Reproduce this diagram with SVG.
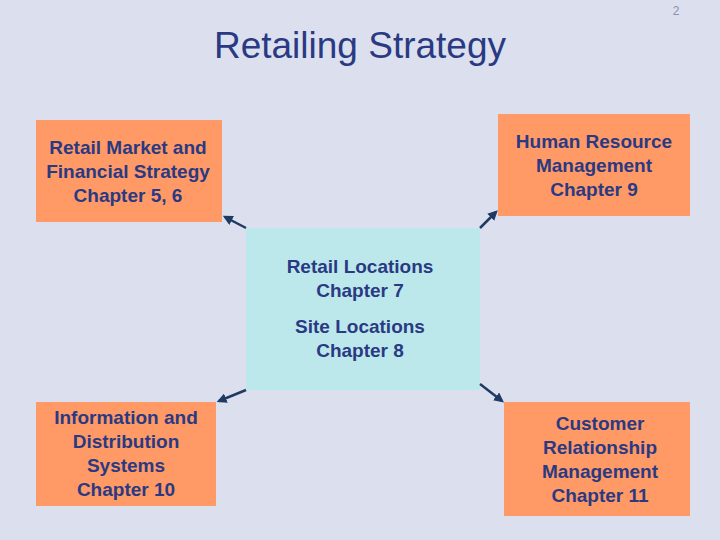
<svg xmlns="http://www.w3.org/2000/svg" width="720" height="540" viewBox="0 0 720 540">
<style>
.o{fill:#ff9966}
.t{font-family:"Liberation Sans",Arial,sans-serif;font-weight:bold;font-size:19px;fill:#2a3a82;text-anchor:middle}
.c line{stroke:#213a63;stroke-width:2.5;marker-end:url(#a)}
</style>
<defs><marker id="a" markerWidth="4" markerHeight="4" refX="3" refY="2" orient="auto"><path d="M0,0L4,2L0,4z" fill="#213a63"/></marker></defs>
<rect width="720" height="540" fill="#dce0ee"/>
<text x="676" y="15" font-family="Liberation Sans,sans-serif" font-size="12" fill="#8890b0" text-anchor="middle">2</text>
<text x="360" y="58" font-family="Liberation Sans,sans-serif" font-size="37" fill="#2a3a82" text-anchor="middle">Retailing Strategy</text>
<g id="center"><rect x="246" y="228" width="234" height="162" fill="#bce8ec"/>
<text class="t" x="360" y="273">Retail Locations</text><text class="t" x="360" y="297">Chapter 7</text>
<text class="t" x="360" y="333">Site Locations</text><text class="t" x="360" y="357">Chapter 8</text></g>
<g id="tl"><rect class="o" x="36" y="120" width="186" height="102"/>
<text class="t" x="128" y="154">Retail Market and</text><text class="t" x="128" y="178">Financial Strategy</text><text class="t" x="128" y="202">Chapter 5, 6</text></g>
<g id="tr"><rect class="o" x="498" y="114" width="192" height="102"/>
<text class="t" x="594" y="148">Human Resource</text><text class="t" x="594" y="172">Management</text><text class="t" x="594" y="196">Chapter 9</text></g>
<g id="bl"><rect class="o" x="36" y="402" width="180" height="104"/>
<text class="t" x="126" y="424">Information and</text><text class="t" x="126" y="448">Distribution</text><text class="t" x="126" y="472">Systems</text><text class="t" x="126" y="496">Chapter 10</text></g>
<g id="br"><rect class="o" x="504" y="402" width="186" height="114"/>
<text class="t" x="600" y="430">Customer</text><text class="t" x="600" y="454">Relationship</text><text class="t" x="600" y="478">Management</text><text class="t" x="600" y="502">Chapter 11</text></g>
<g class="c">
<line x1="246" y1="228" x2="225" y2="217"/>
<line x1="480" y1="228" x2="496" y2="212"/>
<line x1="246" y1="390" x2="219" y2="401"/>
<line x1="480" y1="384" x2="502" y2="401"/>
</g>
</svg>
